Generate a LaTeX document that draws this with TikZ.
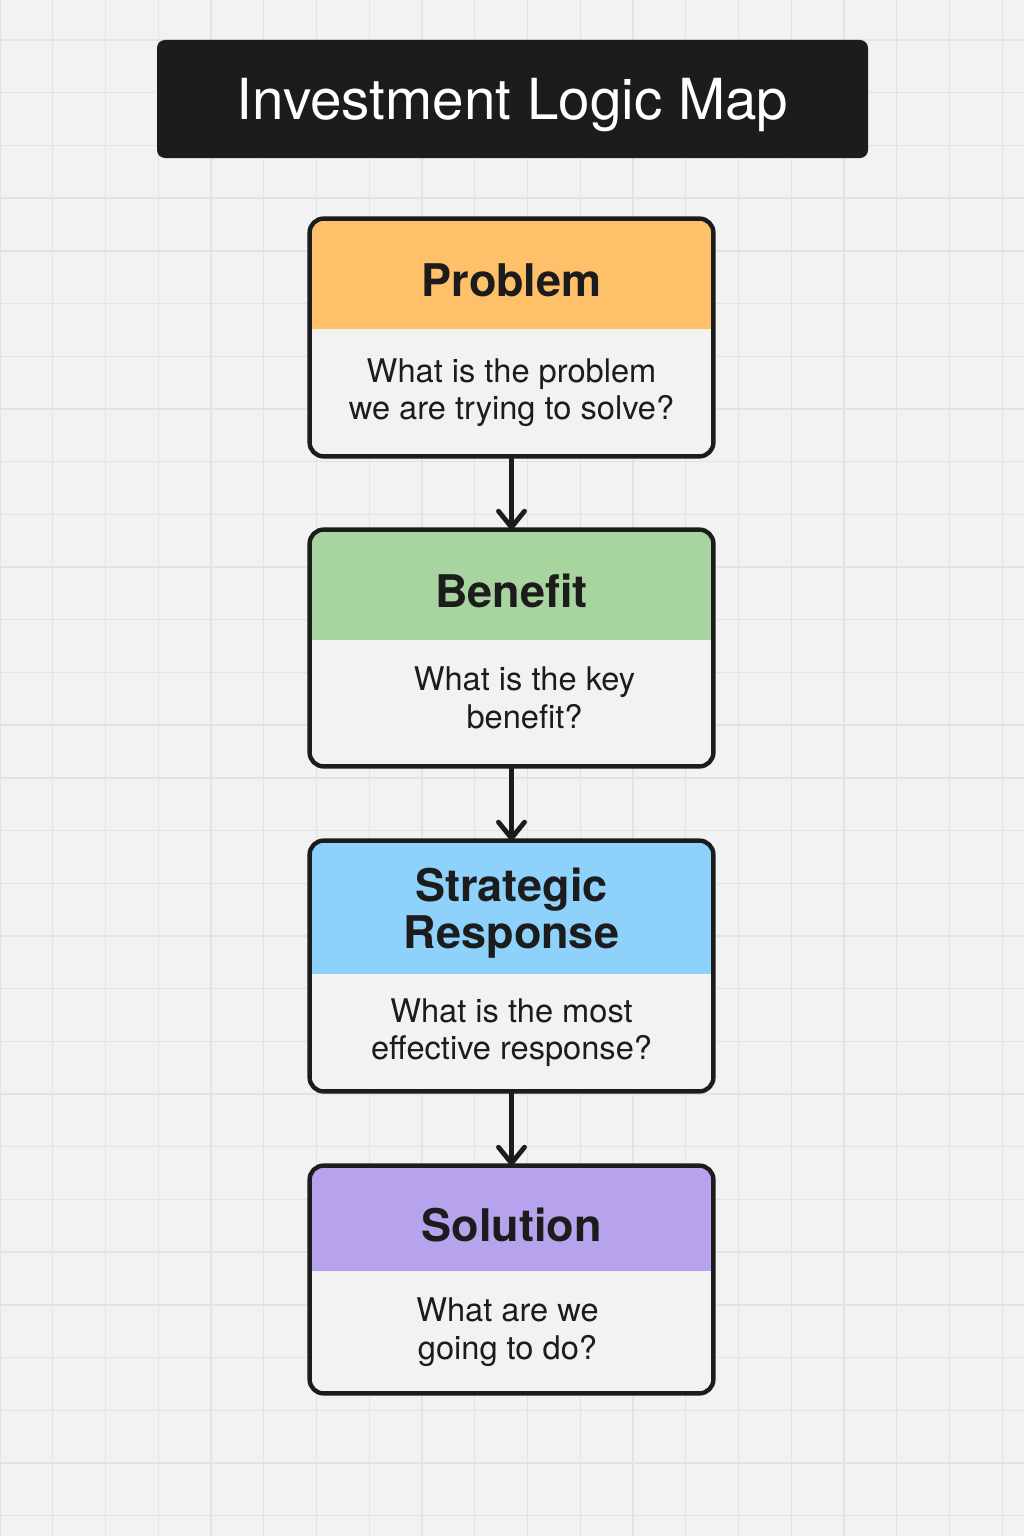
\documentclass[tikz,border=0pt]{standalone}
\usepackage{fontspec}
\setmainfont{TeX Gyre Heros}
\usetikzlibrary{arrows.meta,backgrounds}

\definecolor{paper}{HTML}{F2F2F2}
\definecolor{gridgray}{HTML}{E3E3E3}
\definecolor{ink}{HTML}{1C1C1C}
\definecolor{probcol}{HTML}{FFC06A}
\definecolor{bencol}{HTML}{A8D4A0}
\definecolor{stratcol}{HTML}{8ED1FA}
\definecolor{solcol}{HTML}{B7A2EE}

\begin{document}
\begin{tikzpicture}[x=0.5pt,y=-0.5pt,
    titlebox/.style={fill=ink, rounded corners=4pt, text=white,
        minimum width=355.5pt, minimum height=59pt, text depth=0pt,
        font=\fontsize{28.3}{30}\selectfont},
    head/.style={minimum width=201.5pt},
    headtext/.style={yshift=-3pt, text=ink, align=center,
        font=\fontsize{22.5}{23.5}\selectfont\bfseries},
    ask/.style={minimum width=201.5pt},
    asktext/.style={text=ink, align=center,
        font=\fontsize{16.3}{18.8}\selectfont},
    frame/.style={draw=ink, line width=2.2pt, rounded corners=7pt},
    flow/.style={draw=ink, line width=2.2pt,
        -{Straight Barb[length=8pt,width=13pt,line width=0pt 1.1,round]}}]
    \tikzstyle{every node}+=[inner sep=0pt]
    \useasboundingbox (0,0) rectangle (1024,1536);

    % title
    \node[titlebox] (title) at (512.5,99) {Investment Logic Map};

    % the four stages
    \node[head, minimum height=55pt, label={[headtext]center:Problem}] (prob) at (511.5,274) {};
    \node[ask, minimum height=63.5pt, label={[asktext]center:What is the problem\\we are trying to solve?}] (probq) at (511.5,392.5) {};
    \node[head, minimum height=55pt, label={[headtext]center:Benefit}] (ben) at (511.5,585) {};
    \node[ask, minimum height=63pt, label={[asktext, xshift=6.5pt, yshift=2.5pt]center:What is the key\\benefit?}] (benq) at (511.5,703) {};
    \node[head, minimum height=66.5pt, label={[headtext]center:Strategic\\Response}] (strat) at (511.5,907.5) {};
    \node[ask, minimum height=58.5pt, label={[asktext]center:What is the most\\effective response?}] (stratq) at (511.5,1032.5) {};
    \node[head, minimum height=52.5pt, label={[headtext]center:Solution}] (sol) at (511.5,1218.5) {};
    \node[ask, minimum height=61pt, label={[asktext, xshift=-2pt]center:What are we\\going to do?}] (solq) at (511.5,1332) {};

    % fills behind the text
    \begin{scope}[on background layer]
        \fill[paper] (0,0) rectangle (1024,1536);
        \foreach \i in {0,...,19}
            \draw[gridgray, line width=0.7pt] (52.75*\i,0) -- (52.75*\i,1536);
        \foreach \j in {0,...,28}
            \draw[gridgray, line width=0.7pt] (0,40+52.7*\j) -- (1024,40+52.7*\j);
        \foreach \h/\q/\c in {prob/probq/probcol, ben/benq/bencol, strat/stratq/stratcol, sol/solq/solcol} {
            \begin{scope}
                \clip[rounded corners=7pt] (\h.north west) rectangle (\q.south east);
                \fill[paper] (\h.north west) rectangle (\q.south east);
                \fill[\c] (\h.north west) rectangle (\h.south east);
            \end{scope}
        }
    \end{scope}

    % outlines
    \foreach \h/\q in {prob/probq, ben/benq, strat/stratq, sol/solq}
        \draw[frame] (\h.north west) rectangle (\q.south east);

    % connectors
    \draw[flow] (probq.south) -- (ben.north);
    \draw[flow] (benq.south) -- (strat.north);
    \draw[flow] (stratq.south) -- (sol.north);
\end{tikzpicture}
\end{document}
